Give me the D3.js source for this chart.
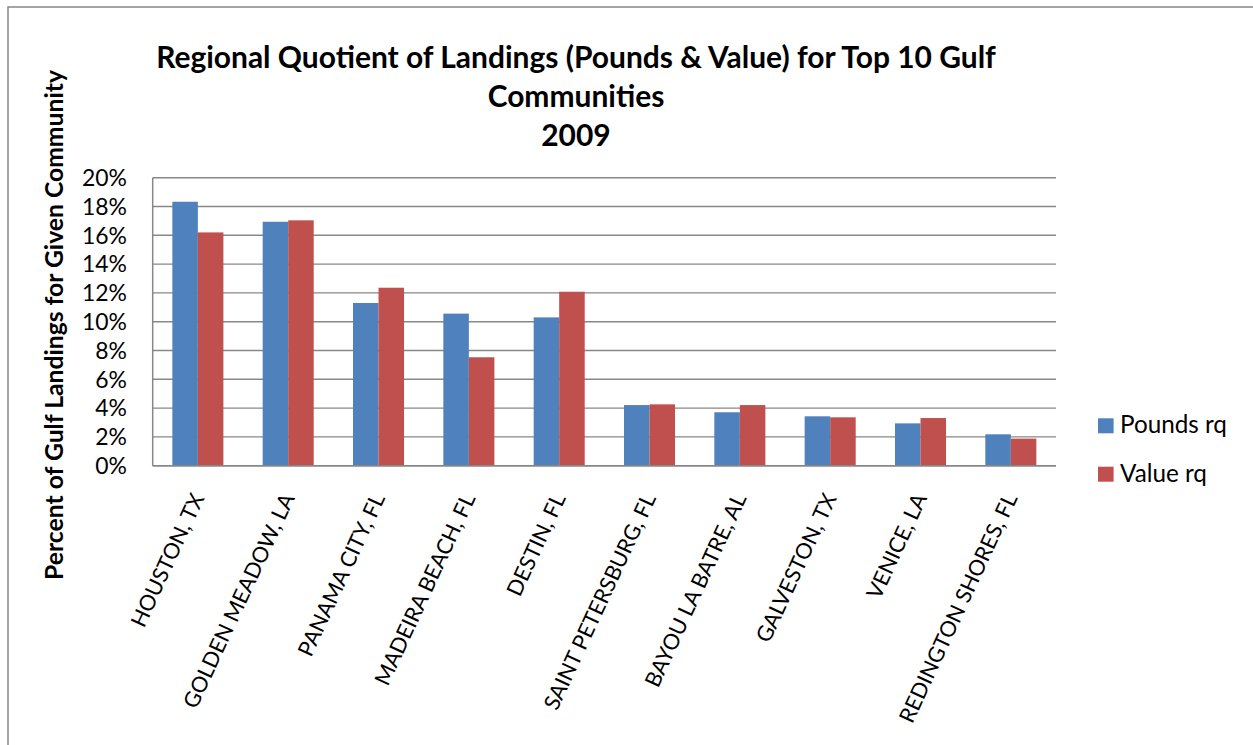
<!DOCTYPE html>
<html>
<head>
<meta charset="utf-8">
<script src="https://cdn.jsdelivr.net/npm/d3@7"></script>
<style>
  html, body { margin: 0; padding: 0; background: #ffffff; }
  svg { display: block; }
  text { font-family: Lato, "Open Sans", sans-serif; fill: #000; }
</style>
</head>
<body>
<svg id="chart" width="1253" height="745"></svg>
<script>
// Top 10 Gulf communities, 2009 regional quotient (percent)
const communities = [
  "HOUSTON, TX", "GOLDEN MEADOW, LA", "PANAMA CITY, FL", "MADEIRA BEACH, FL",
  "DESTIN, FL", "SAINT PETERSBURG, FL", "BAYOU LA BATRE, AL", "GALVESTON, TX",
  "VENICE, LA", "REDINGTON SHORES, FL"
];
const poundsRq = [18.33, 16.94, 11.30, 10.56, 10.30, 4.21, 3.71, 3.43, 2.94, 2.18];
const valueRq  = [16.20, 17.04, 12.36, 7.53, 12.08, 4.26, 4.21, 3.36, 3.31, 1.88];
const seriesNames = ["Pounds rq", "Value rq"];
const yTicks = [0, 2, 4, 6, 8, 10, 12, 14, 16, 18, 20];
const titleLines = [
  "Regional Quotient of Landings (Pounds & Value) for Top 10 Gulf",
  "Communities",
  "2009"
];
const yAxisTitle = "Percent of Gulf Landings for Given Community";

const colors = ["#4F81BD", "#C0504D"];
const gridColor = "#878787";

const svg = d3.select("#chart");

// outer chart frame
svg.append("rect")
  .attr("x", 8).attr("y", 7).attr("width", 1400).attr("height", 900)
  .attr("fill", "none").attr("stroke", gridColor).attr("stroke-width", 1.5);

const plot = { left: 152.7, right: 1056, top: 177.7, bottom: 465.7 };

const x = d3.scaleBand()
  .domain(communities)
  .range([plot.left, plot.right])
  .paddingInner(0.435)
  .paddingOuter(0.2175);

const xSeries = d3.scaleBand()
  .domain(seriesNames)
  .range([0, x.bandwidth()])
  .padding(0);

const y = d3.scaleLinear().domain([0, 20]).range([plot.bottom, plot.top]);

// scale text so its rendered width equals a target width
function fitWidth(sel, target) {
  const w = sel.node().getComputedTextLength();
  const fs = parseFloat(sel.attr("font-size"));
  sel.attr("font-size", fs * target / w);
  return fs * target / w;
}

// gridlines
svg.append("g")
  .selectAll("line")
  .data(yTicks)
  .join("line")
  .attr("x1", plot.left).attr("x2", plot.right)
  .attr("y1", d => y(d)).attr("y2", d => y(d))
  .attr("stroke", gridColor).attr("stroke-width", 1.4);

// bars
const rows = communities.map((c, i) => ({ c, vals: [poundsRq[i], valueRq[i]] }));
const groups = svg.append("g")
  .selectAll("g")
  .data(rows)
  .join("g")
  .attr("transform", d => `translate(${x(d.c)},0)`);

groups.selectAll("rect")
  .data(d => d.vals.map((v, k) => ({ k, v })))
  .join("rect")
  .attr("x", d => xSeries(seriesNames[d.k]))
  .attr("width", xSeries.bandwidth())
  .attr("y", d => y(d.v))
  .attr("height", d => y(0) - y(d.v))
  .attr("fill", d => colors[d.k]);

// axis lines
svg.append("line")
  .attr("x1", plot.left).attr("x2", plot.left)
  .attr("y1", plot.top).attr("y2", plot.bottom)
  .attr("stroke", gridColor).attr("stroke-width", 1.5);
svg.append("line")
  .attr("x1", plot.left).attr("x2", plot.right)
  .attr("y1", plot.bottom).attr("y2", plot.bottom)
  .attr("stroke", gridColor).attr("stroke-width", 1.5);

// y tick labels
const yLab = svg.append("g")
  .selectAll("text")
  .data(yTicks)
  .join("text")
  .attr("x", 127)
  .attr("y", d => y(d))
  .attr("dy", "0.36em")
  .attr("text-anchor", "end")
  .attr("font-size", 22)
  .text(d => d + "%");
const tickFs = fitWidth(yLab.filter(d => d === 20), 45);
yLab.attr("font-size", tickFs);

// x category labels, rotated
const xLab = svg.append("g")
  .selectAll("text")
  .data(communities)
  .join("text")
  .attr("transform", d => `translate(${x(d) + x.bandwidth() / 2 + 7},498) rotate(-65)`)
  .attr("text-anchor", "end")
  .attr("font-size", 22)
  .text(d => d);
const xFs = fitWidth(xLab.filter(d => d === "REDINGTON SHORES, FL"), 250);
xLab.attr("font-size", xFs);

// y axis title
const yt = svg.append("text")
  .attr("transform", "translate(63,325) rotate(-90)")
  .attr("text-anchor", "middle")
  .attr("font-weight", "bold")
  .attr("font-size", 22)
  .text(yAxisTitle);
fitWidth(yt, 510);

// title
const titleBase = [68, 107, 146];
const tl = svg.append("g")
  .selectAll("text")
  .data(titleLines)
  .join("text")
  .attr("x", 576)
  .attr("y", (d, i) => titleBase[i])
  .attr("text-anchor", "middle")
  .attr("font-weight", "bold")
  .attr("font-size", 24)
  .text(d => d);
const titleFs = fitWidth(tl.filter((d, i) => i === 0), 840);
tl.attr("font-size", titleFs);

// legend
const legend = svg.append("g")
  .selectAll("g")
  .data(seriesNames)
  .join("g")
  .attr("transform", (d, i) => `translate(1098,${418.3 + i * 48.4})`);
legend.append("rect")
  .attr("width", 15.6).attr("height", 15)
  .attr("fill", (d, i) => colors[i]);
const legText = legend.append("text")
  .attr("x", 22)
  .attr("y", 15)
  .attr("font-size", 22)
  .text(d => d);
const legFs = fitWidth(legText.filter((d, i) => i === 0), 107);
legText.attr("font-size", legFs);
</script>
</body>
</html>
